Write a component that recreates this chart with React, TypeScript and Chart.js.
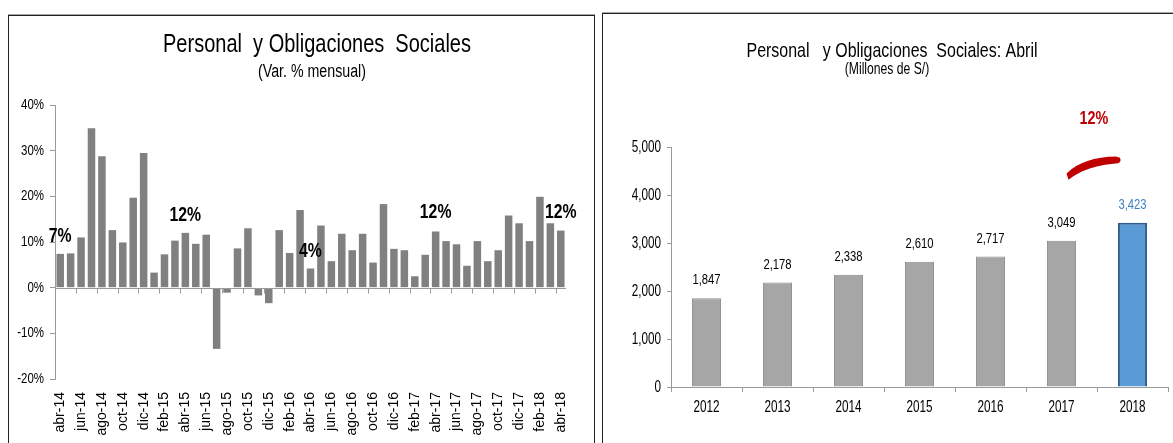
import React, { useEffect, useRef } from "react";
import { Chart, registerables } from "chart.js";

Chart.register(...registerables);

const SANS = '"Liberation Sans", Arial, sans-serif';

// ---------- Left chart data ----------
const months = [
  "abr-14", "may-14", "jun-14", "jul-14", "ago-14", "sep-14", "oct-14", "nov-14", "dic-14",
  "ene-15", "feb-15", "mar-15", "abr-15", "may-15", "jun-15", "jul-15", "ago-15", "sep-15", "oct-15", "nov-15", "dic-15",
  "ene-16", "feb-16", "mar-16", "abr-16", "may-16", "jun-16", "jul-16", "ago-16", "sep-16", "oct-16", "nov-16", "dic-16",
  "ene-17", "feb-17", "mar-17", "abr-17", "may-17", "jun-17", "jul-17", "ago-17", "sep-17", "oct-17", "nov-17", "dic-17",
  "ene-18", "feb-18", "mar-18", "abr-18",
];
const monthlyVar = [
  7.4, 7.5, 11.0, 34.9, 28.8, 12.6, 9.9, 19.7, 29.5,
  3.3, 7.3, 10.3, 12.0, 9.6, 11.6, -13.4, -1.1, 8.6, 13.0, -1.7, -3.4,
  12.6, 7.6, 17.0, 4.2, 13.6, 5.8, 11.8, 8.2, 11.8, 5.5, 18.3, 8.5,
  8.2, 2.5, 7.2, 12.3, 10.2, 9.5, 4.8, 10.2, 5.8, 8.2, 15.8, 14.1,
  10.2, 19.9, 14.1, 12.5,
];
const leftYTicks = [-20, -10, 0, 10, 20, 30, 40];
const noteIndex = [0, 12, 24, 36, 48];
const noteText = ["7%", "12%", "4%", "12%", "12%"];
const noteLevel = [11.2, 15.7, 8.0, 16.5, 16.5];

// ---------- Right chart data ----------
const years = ["2012", "2013", "2014", "2015", "2016", "2017", "2018"];
const aprilValues = [1847, 2178, 2338, 2610, 2717, 3049, 3423];
const rightYTicks = [0, 1000, 2000, 3000, 4000, 5000];
const growthText = "12%";

const GRAY_BAR = "#808080";
const AXIS = "#9a9a9a";

// Draw condensed text by squeezing a regular sans face horizontally.
function narrowText(
  ctx: CanvasRenderingContext2D,
  text: string,
  x: number,
  y: number,
  font: string,
  factor: number,
  align: CanvasTextAlign,
  baseline: CanvasTextBaseline,
  color: string
) {
  ctx.save();
  ctx.translate(x, y);
  ctx.scale(factor, 1);
  ctx.font = font;
  ctx.textAlign = align;
  ctx.textBaseline = baseline;
  ctx.fillStyle = color;
  ctx.fillText(text, 0, 0);
  ctx.restore();
}

function leftConfig(): any {
  const extras = {
    id: "leftExtras",
    afterDatasetsDraw(chart: any) {
      const { ctx, chartArea, scales } = chart;
      const x = scales.x;
      const y = scales.y;
      const y0 = Math.round(y.getPixelForValue(0)) + 0.5;
      ctx.save();
      ctx.strokeStyle = AXIS;
      ctx.lineWidth = 1;
      ctx.beginPath();
      ctx.moveTo(chartArea.left, y0);
      ctx.lineTo(chartArea.right, y0);
      const half = (x.getPixelForValue(1) - x.getPixelForValue(0)) / 2;
      for (let i = 0; i < months.length; i += 2) {
        const px = Math.round(x.getPixelForValue(i) - half) + 0.5;
        ctx.moveTo(px, y0);
        ctx.lineTo(px, y0 + 5);
      }
      ctx.stroke();
      ctx.restore();

      leftYTicks.forEach((v) => {
        narrowText(ctx, `${v}%`, y.right - 11, y.getPixelForValue(v), `14px ${SANS}`, 0.82, "right", "middle", "#000");
      });

      noteIndex.forEach((idx, k) => {
        narrowText(
          ctx,
          noteText[k],
          x.getPixelForValue(idx),
          y.getPixelForValue(noteLevel[k]),
          `bold 20px ${SANS}`,
          0.79,
          "center",
          "middle",
          "#000"
        );
      });

      narrowText(ctx, "Personal  y Obligaciones  Sociales", 308, 36, `25px ${SANS}`, 0.8, "center", "alphabetic", "#000");
      narrowText(ctx, "(Var. % mensual)", 303, 61, `18px ${SANS}`, 0.79, "center", "alphabetic", "#000");
    },
  };
  return {
    type: "bar",
    data: {
      labels: months,
      datasets: [
        {
          data: monthlyVar,
          backgroundColor: GRAY_BAR,
          borderWidth: 0,
          barPercentage: 0.72,
          categoryPercentage: 1,
        },
      ],
    },
    options: {
      responsive: false,
      animation: false,
      layout: { padding: { top: 89, right: 28, left: 0, bottom: 0 } },
      plugins: { legend: { display: false }, tooltip: { enabled: false }, title: { display: false } },
      scales: {
        x: {
          grid: { display: false, drawTicks: false },
          border: { display: false },
          ticks: {
            autoSkip: false,
            minRotation: 90,
            maxRotation: 90,
            padding: 13,
            color: "#000",
            font: { family: SANS, size: 14 },
            callback: (_v: any, i: number) => (i % 2 === 0 ? months[i] : ""),
          },
          afterFit: (axis: any) => {
            axis.height = 92;
          },
        },
        y: {
          min: leftYTicks[0],
          max: leftYTicks[leftYTicks.length - 1],
          grid: { drawOnChartArea: false, drawTicks: true, tickLength: 5, color: AXIS },
          border: { display: true, color: AXIS },
          ticks: {
            display: false,
            stepSize: leftYTicks[1] - leftYTicks[0],
          },
          afterFit: (axis: any) => {
            axis.width = 46;
          },
        },
      },
    },
    plugins: [extras],
  };
}

function rightConfig(): any {
  const last = aprilValues.length - 1;
  const extras = {
    id: "rightExtras",
    afterDatasetsDraw(chart: any) {
      const { ctx, scales, chartArea } = chart;
      const x = scales.x;
      const y = scales.y;
      const meta = chart.getDatasetMeta(0);

      meta.data.forEach((bar: any, i: number) => {
        narrowText(
          ctx,
          aprilValues[i].toLocaleString("en-US"),
          bar.x,
          bar.y - 18,
          `15px ${SANS}`,
          0.75,
          "center",
          "middle",
          i === last ? "#3F7FC4" : "#000"
        );
      });

      rightYTicks.forEach((v) => {
        narrowText(ctx, v.toLocaleString("en-US"), y.right - 10, y.getPixelForValue(v), `16.5px ${SANS}`, 0.71, "right", "middle", "#000");
      });
      years.forEach((yr, i) => {
        narrowText(ctx, yr, x.getPixelForValue(i), chartArea.bottom + 20.5, `16.5px ${SANS}`, 0.71, "center", "middle", "#000");
      });

      const n = years.length;
      const xa = x.getPixelForValue(n - 2);
      const xb = x.getPixelForValue(n - 1);
      narrowText(ctx, growthText, (xa + xb) / 2 - 3, y.getPixelForValue(5580), `bold 18px ${SANS}`, 0.8, "center", "middle", "#C00000");

      ctx.save();
      ctx.fillStyle = "#C00000";
      ctx.beginPath();
      ctx.moveTo(xa + 5, y.getPixelForValue(4450));
      ctx.quadraticCurveTo(xa + 22, y.getPixelForValue(4790), xb - 16, y.getPixelForValue(4800));
      ctx.lineTo(xb - 14, y.getPixelForValue(4660));
      ctx.quadraticCurveTo(xa + 26, y.getPixelForValue(4620), xa + 7, y.getPixelForValue(4320));
      ctx.closePath();
      ctx.fill();
      ctx.beginPath();
      ctx.arc(xb - 15, y.getPixelForValue(4730), 3, 0, Math.PI * 2);
      ctx.fill();
      ctx.restore();

      narrowText(ctx, "Personal   y Obligaciones  Sociales: Abril", 289, 43, `21px ${SANS}`, 0.76, "center", "alphabetic", "#000");
      narrowText(ctx, "(Millones de S/)", 284, 60, `16px ${SANS}`, 0.76, "center", "alphabetic", "#000");
    },
  };
  return {
    type: "bar",
    data: {
      labels: years,
      datasets: [
        {
          data: aprilValues,
          backgroundColor: aprilValues.map((_, i) => (i === last ? "#5B9BD5" : "#A6A6A6")),
          borderColor: aprilValues.map((_, i) => (i === last ? "#2F5E8E" : "#8C8C8C")),
          borderWidth: aprilValues.map((_, i) => (i === last ? 2 : 1)),
          barPercentage: 0.41,
          categoryPercentage: 1,
        },
      ],
    },
    options: {
      responsive: false,
      animation: false,
      layout: { padding: { top: 133, right: 5, left: 0, bottom: 0 } },
      plugins: { legend: { display: false }, tooltip: { enabled: false }, title: { display: false } },
      scales: {
        x: {
          grid: { drawOnChartArea: false, drawTicks: true, tickLength: 5, color: AXIS },
          border: { display: true, color: AXIS },
          ticks: { display: false },
          afterFit: (axis: any) => {
            axis.height = 56;
          },
        },
        y: {
          min: rightYTicks[0],
          max: rightYTicks[rightYTicks.length - 1],
          grid: { drawOnChartArea: false, drawTicks: true, tickLength: 4, color: AXIS },
          border: { display: true, color: AXIS },
          ticks: {
            display: false,
            stepSize: rightYTicks[1] - rightYTicks[0],
          },
          afterFit: (axis: any) => {
            axis.width = 68;
          },
        },
      },
    },
    plugins: [extras],
  };
}

function ChartCanvas(props: { make: () => any; left: number; top: number; width: number; height: number }) {
  const ref = useRef<HTMLCanvasElement | null>(null);
  useEffect(() => {
    if (!ref.current) return;
    const chart = new Chart(ref.current, props.make());
    return () => chart.destroy();
  }, []);
  return (
    <canvas
      ref={ref}
      width={props.width}
      height={props.height}
      style={{ position: "absolute", left: props.left, top: props.top, width: props.width, height: props.height }}
    />
  );
}

export default function App() {
  return (
    <div
      style={{
        position: "absolute",
        left: 0,
        top: 0,
        width: 1173,
        height: 443,
        overflow: "hidden",
        background: "#fff",
      }}
    >
      <div
        style={{
          position: "absolute",
          left: 8,
          top: 15,
          width: 587,
          height: 470,
          border: "1px solid #222",
          boxSizing: "border-box",
          boxShadow: "0 -1px 0 #aaa",
        }}
      />
      <div
        style={{
          position: "absolute",
          left: 602,
          top: 13,
          width: 600,
          height: 470,
          border: "1px solid #222",
          boxSizing: "border-box",
          boxShadow: "0 -1px 0 #aaa",
        }}
      />
      <ChartCanvas make={leftConfig} left={9} top={16} width={585} height={455} />
      <ChartCanvas make={rightConfig} left={603} top={14} width={570} height={429} />
    </div>
  );
}
